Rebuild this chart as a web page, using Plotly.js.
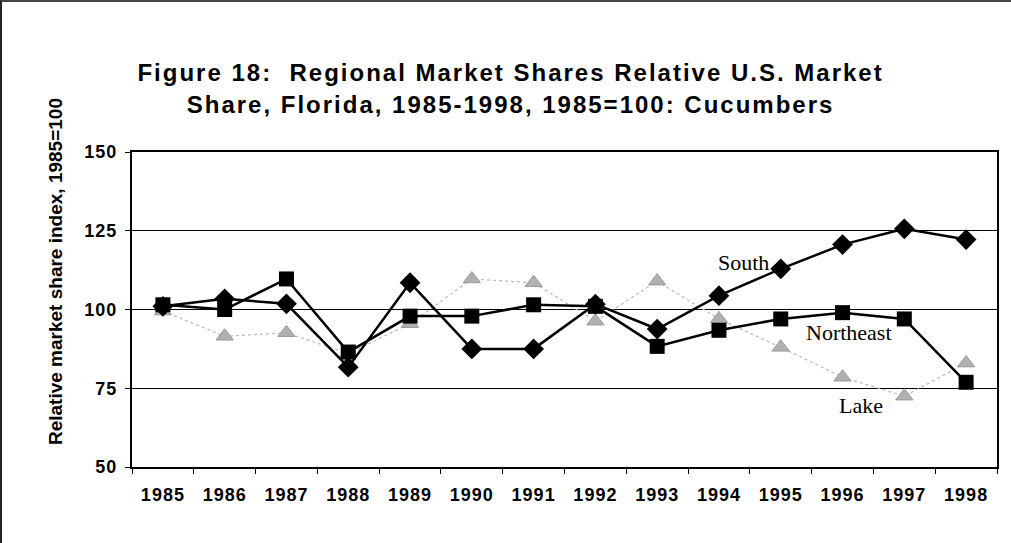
<!DOCTYPE html>
<html>
<head>
<meta charset="utf-8">
<script src="https://cdn.plot.ly/plotly-3.0.1.min.js"></script>
<style>
html,body{margin:0;padding:0;background:#fff;}
#frame{position:absolute;left:0;top:0;width:1011px;height:543px;box-sizing:border-box;border-left:2px solid #222;border-top:2px solid #444;pointer-events:none;}
#chart{position:absolute;left:0;top:0;width:1011px;height:543px;}
.gtitle{letter-spacing:2px;}
.xtick text,.ytick text{letter-spacing:1px;}
</style>
</head>
<body>
<div id="chart"></div>
<div id="frame"></div>
<script>
const years = ['1985','1986','1987','1988','1989','1990','1991','1992','1993','1994','1995','1996','1997','1998'];
const south = [101, 103.4, 101.8, 81.7, 108.5, 87.5, 87.5, 101.7, 93.8, 104.4, 112.9, 120.6, 125.6, 122.2];
const northeast = [101.5, 100, 109.7, 86.5, 97.9, 97.9, 101.5, 101, 88.3, 93.4, 97, 99, 97, 76.9];
const lake = [99.5, 91.5, 92.6, 86, 95.5, 109.7, 108.5, 96.3, 109, 97, 88, 78.5, 72.5, 83];
const yTicks = [50, 75, 100, 125, 150];

const traces = [
  {x: years, y: lake, name: 'Lake', mode: 'lines+markers', type: 'scatter',
   line: {color: '#b8b8b8', width: 1.2, dash: 'dot'},
   marker: {symbol: 'triangle-up', size: 15, color: '#b0b0b0', line: {color: '#999', width: 1}}},
  {x: years, y: northeast, name: 'Northeast', mode: 'lines+markers', type: 'scatter',
   line: {color: '#000', width: 2.5},
   marker: {symbol: 'square', size: 15, color: '#000'}},
  {x: years, y: south, name: 'South', mode: 'lines+markers', type: 'scatter',
   line: {color: '#000', width: 2.5},
   marker: {symbol: 'diamond', size: 16, color: '#000'}}
];

const tickFont = {family: 'Liberation Sans, Arial, sans-serif', size: 18, color: '#000', weight: 'bold'};
const serif = {family: 'Liberation Serif, Times New Roman, serif', size: 22, color: '#000'};

const layout = {
  width: 1011, height: 543,
  margin: {l: 132, r: 14, t: 152, b: 76},
  paper_bgcolor: '#fff', plot_bgcolor: '#fff',
  showlegend: false,
  title: {
    text: '<b>Figure 18:  Regional Market Shares Relative U.S. Market<br>Share, Florida, 1985-1998, 1985=100: Cucumbers</b>',
    font: {family: 'Liberation Sans, Arial, sans-serif', size: 24, color: '#000'},
    x: 0.505, xanchor: 'center', y: 0.85, yanchor: 'top'
  },
  xaxis: {
    type: 'category', tickson: 'boundaries', ticks: 'outside', ticklen: 5, tickcolor: '#000',
    showgrid: false, showline: true, linecolor: '#000', linewidth: 2, mirror: true,
    tickfont: tickFont, ticklabelstandoff: 10,
    range: [-0.5, 13.5]
  },
  yaxis: {
    range: [50, 150], tickvals: yTicks, ticks: 'outside', ticklen: 5, tickcolor: '#000',
    showgrid: true, gridcolor: '#000', gridwidth: 1,
    showline: true, linecolor: '#000', linewidth: 2, mirror: true, zeroline: false,
    tickfont: tickFont, ticklabelstandoff: 4
  },
  annotations: [
    {x: -0.089, y: 0.619, xref: 'paper', yref: 'paper', textangle: -90, showarrow: false,
     text: '<b>Relative market share index, 1985=100</b>', xanchor: 'center', yanchor: 'middle',
     font: {family: 'Liberation Sans, Arial, sans-serif', size: 19, color: '#000'}},
    {x: 9.39, y: 115, xref: 'x', yref: 'y', text: 'South', showarrow: false, font: serif},
    {x: 11.1, y: 92.8, xref: 'x', yref: 'y', text: 'Northeast', showarrow: false, font: serif},
    {x: 11.3, y: 69.6, xref: 'x', yref: 'y', text: 'Lake', showarrow: false, font: serif}
  ]
};

Plotly.newPlot('chart', traces, layout, {displayModeBar: false, staticPlot: true});
</script>
</body>
</html>
